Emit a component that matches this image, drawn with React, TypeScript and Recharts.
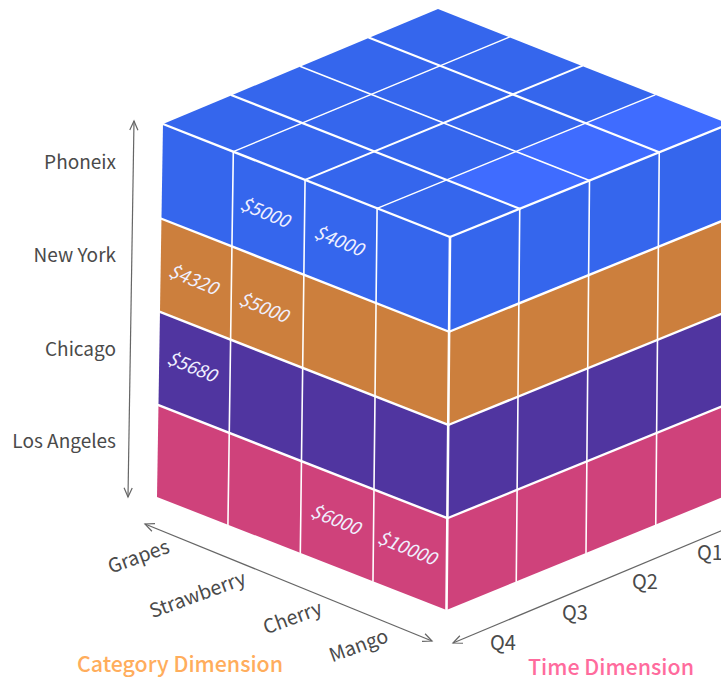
import { ScatterChart, Scatter, XAxis, YAxis } from 'recharts'

type Pt = { x: number; y: number }
type Corner = [number, number]

const CITIES = ['Phoneix', 'New York', 'Chicago', 'Los Angeles']
const CATEGORIES = ['Grapes', 'Strawberry', 'Cherry', 'Mango']
const QUARTERS = ['Q1', 'Q2', 'Q3', 'Q4']

// sales shown on the category face, one list per city, null = no label
const PHOENIX_SALES = [null, 5000, 4000, null]
const NEW_YORK_SALES = [4320, 5000, null, null]
const CHICAGO_SALES = [5680, null, null, null]
const LOS_ANGELES_SALES = [null, null, 6000, 10000]
const SALES = [PHOENIX_SALES, NEW_YORK_SALES, CHICAGO_SALES, LOS_ANGELES_SALES]

const WIDTH = 721
const HEIGHT = 678
const FONT = '"Noto Sans CJK SC", "Noto Sans", sans-serif'
const SLOPE = -20

const LAYER_COLORS = ['#3566ed', '#cc7f3d', '#5035a0', '#cf427b']
const TOP_COLOR = '#3566ed'
const TOP_HIGHLIGHT = '#3f6cff'
const LINE_COLOR = '#ffffff'
const ARROW_COLOR = '#666666'
const TICK_COLOR = '#4a4a4a'

// cube corners in chart units: top level, then bottom level
const TOP = { left: [163, 124], front: [450, 237], back: [438, 9], right: [729, 124] } as Record<string, Corner>
const BOTTOM = { left: [157, 497], front: [446.5, 610], back: [436, 383], right: [725.5, 496] } as Record<string, Corner>

// columns and layers are not quite even along their edges
const CATEGORY_STOPS = [0, 0.245, 0.495, 0.746, 1]
const LAYER_STOPS = [0, 0.254, 0.504, 0.754, 1]

const warp = (stops: number[], c: number) => {
  const i = Math.min(Math.floor(c), 3)
  return stops[i] + (stops[i + 1] - stops[i]) * (c - i)
}

// c: category step, t: time step (from the front corner), r: layer step from the top
const project = (c: number, t: number, r: number): Pt => {
  const u = warp(CATEGORY_STOPS, c)
  const v = t / 4
  const w = warp(LAYER_STOPS, r)
  const at = (i: 0 | 1) => {
    const level = (s: Record<string, Corner>) =>
      (1 - u) * (1 - v) * s.left[i] + u * (1 - v) * s.front[i] + (1 - u) * v * s.back[i] + u * v * s.right[i]
    return level(TOP) * (1 - w) + level(BOTTOM) * w
  }
  return { x: at(0), y: at(1) }
}

const noDot = () => <g />

const polygon = (pts: Pt[], fill: string, key: string) => (
  <Scatter
    key={key}
    data={pts}
    isAnimationActive={false}
    shape={noDot}
    line={(p: any) => <polygon points={p.points.map((q: Pt) => `${q.x},${q.y}`).join(' ')} fill={fill} stroke="none" />}
  />
)

const segment = (a: Pt, b: Pt, width: number, key: string) => (
  <Scatter
    key={key}
    data={[a, b]}
    isAnimationActive={false}
    shape={noDot}
    line={(p: any) => (
      <line
        x1={p.points[0].x}
        y1={p.points[0].y}
        x2={p.points[1].x}
        y2={p.points[1].y}
        stroke={LINE_COLOR}
        strokeWidth={width}
        strokeLinecap="round"
      />
    )}
  />
)

// open chevron at point a, pointing away from b
const head = (a: Pt, b: Pt) => {
  const ang = Math.atan2(b.y - a.y, b.x - a.x)
  const wing = (d: number) => `${a.x + 10 * Math.cos(ang + d)},${a.y + 10 * Math.sin(ang + d)}`
  return (
    <polyline points={`${wing(0.42)} ${a.x},${a.y} ${wing(-0.42)}`} fill="none" stroke={ARROW_COLOR} strokeWidth={1.2} />
  )
}

const arrow = (a: Pt, b: Pt, both: boolean, key: string) => (
  <Scatter
    key={key}
    data={[a, b]}
    isAnimationActive={false}
    shape={noDot}
    line={(p: any) => {
      const [s, e] = p.points
      return (
        <g>
          <line x1={s.x} y1={s.y} x2={e.x} y2={e.y} stroke={ARROW_COLOR} strokeWidth={1.2} />
          {head(s, e)}
          {both && head(e, s)}
        </g>
      )
    }}
  />
)

const textSeries = (
  rows: { x: number; y: number; text: string }[],
  style: { size: number; color: string; rotate?: number; anchor?: string; italic?: boolean; weight?: number },
  key: string
) => (
  <Scatter
    key={key}
    data={rows}
    isAnimationActive={false}
    shape={(p: any) => (
      <text
        x={p.cx}
        y={p.cy}
        fontFamily={FONT}
        fontSize={style.size}
        fontStyle={style.italic ? 'italic' : 'normal'}
        fontWeight={style.weight ?? 400}
        fill={style.color}
        textAnchor={style.anchor ?? 'middle'}
        dominantBaseline="central"
        transform={style.rotate ? `rotate(${style.rotate} ${p.cx} ${p.cy})` : undefined}
      >
        {p.payload.text}
      </text>
    )}
  />
)

const STEPS = [0, 1, 2, 3]
const EDGES = [0, 1, 2, 3, 4]

// text anchors along the three axes
const CITY_Y = [160, 253, 347, 439]
const CATEGORY_AT: Corner[] = [[138, 555], [197, 593], [292, 616], [358, 644]]
const QUARTER_AT: Corner[] = [[710, 551], [645, 580], [575, 611], [503, 641]]

// sales labels sit a little off the cell centre
const LABEL_NUDGE_X = [-2, -3, -1, -2.5]
const LABEL_NUDGE_Y = [-2, -1, -7, -3]

export default function App() {
  const faces = [
    // top face, last category row carries the highlighted cells
    ...STEPS.flatMap((c) =>
      STEPS.map((t) =>
        polygon(
          [project(c, t, 0), project(c + 1, t, 0), project(c + 1, t + 1, 0), project(c, t + 1, 0)],
          c === 3 && t > 0 ? TOP_HIGHLIGHT : TOP_COLOR,
          `top-${c}-${t}`
        )
      )
    ),
    // one band per city on both visible sides
    ...STEPS.map((r) =>
      polygon([project(0, 0, r), project(4, 0, r), project(4, 0, r + 1), project(0, 0, r + 1)], LAYER_COLORS[r], `left-${r}`)
    ),
    ...STEPS.map((r) =>
      polygon([project(4, 0, r), project(4, 4, r), project(4, 4, r + 1), project(4, 0, r + 1)], LAYER_COLORS[r], `right-${r}`)
    ),
  ]

  const grid = [
    ...EDGES.slice(1, 4).map((t) => segment(project(0, t, 0), project(4, t, 0), t === 2 ? 1.5 : 2.2, `top-c-${t}`)),
    ...EDGES.slice(1, 4).map((c) => segment(project(c, 0, 0), project(c, 4, 0), c === 2 ? 2 : 1.4, `top-t-${c}`)),
    ...EDGES.slice(1, 4).map((c) => segment(project(c, 0, 0), project(c, 0, 4), 1.6, `left-v-${c}`)),
    ...EDGES.slice(1, 4).map((t) => segment(project(4, t, 0), project(4, t, 4), 1.6, `right-v-${t}`)),
    ...EDGES.slice(0, 4).map((r) => segment(project(0, 0, r), project(4, 0, r), 2.4, `left-h-${r}`)),
    ...EDGES.slice(0, 4).map((r) => segment(project(4, 0, r), project(4, 4, r), 2.4, `right-h-${r}`)),
    segment(project(4, 0, 0), project(4, 0, 4), 2.6, 'front-edge'),
  ]

  const salesRows = SALES.flatMap((row, r) =>
    row.flatMap((value, c) => {
      if (value === null) return []
      const centre = project(c + 0.5, 0, r + 0.5)
      return [{ x: centre.x + LABEL_NUDGE_X[c], y: centre.y + LABEL_NUDGE_Y[r], text: `$${value}` }]
    })
  )

  return (
    <div style={{ position: 'absolute', left: 0, top: 0 }}>
      <ScatterChart width={WIDTH} height={HEIGHT} margin={{ top: 0, right: 0, bottom: 0, left: 0 }}>
        <XAxis type="number" dataKey="x" domain={[0, WIDTH]} hide allowDataOverflow />
        <YAxis type="number" dataKey="y" domain={[0, HEIGHT]} reversed hide allowDataOverflow />
        {faces}
        {grid}
        {arrow({ x: 134, y: 121 }, { x: 128, y: 497 }, true, 'city-arrow')}
        {arrow({ x: 145, y: 524 }, { x: 432, y: 641 }, true, 'category-arrow')}
        {arrow({ x: 453, y: 643 }, { x: 740, y: 523 }, false, 'time-arrow')}
        {textSeries(salesRows, { size: 18.5, color: '#f0f0ff', rotate: 22, italic: true }, 'sales')}
        {textSeries(CITIES.map((text, i) => ({ x: 116, y: CITY_Y[i], text })), { size: 19, color: TICK_COLOR, anchor: 'end' }, 'cities')}
        {textSeries(
          CATEGORIES.map((text, i) => ({ x: CATEGORY_AT[i][0], y: CATEGORY_AT[i][1], text })),
          { size: 19.5, color: TICK_COLOR, rotate: SLOPE },
          'categories'
        )}
        {textSeries(QUARTERS.map((text, i) => ({ x: QUARTER_AT[i][0], y: QUARTER_AT[i][1], text })), { size: 20, color: TICK_COLOR }, 'quarters')}
        {textSeries([{ x: 180, y: 662, text: 'Category Dimension' }], { size: 21.4, color: '#ffad5c', weight: 500 }, 'category-title')}
        {textSeries([{ x: 611, y: 665, text: 'Time Dimension' }], { size: 21.4, color: '#ff6b9d', weight: 500 }, 'time-title')}
      </ScatterChart>
    </div>
  )
}
